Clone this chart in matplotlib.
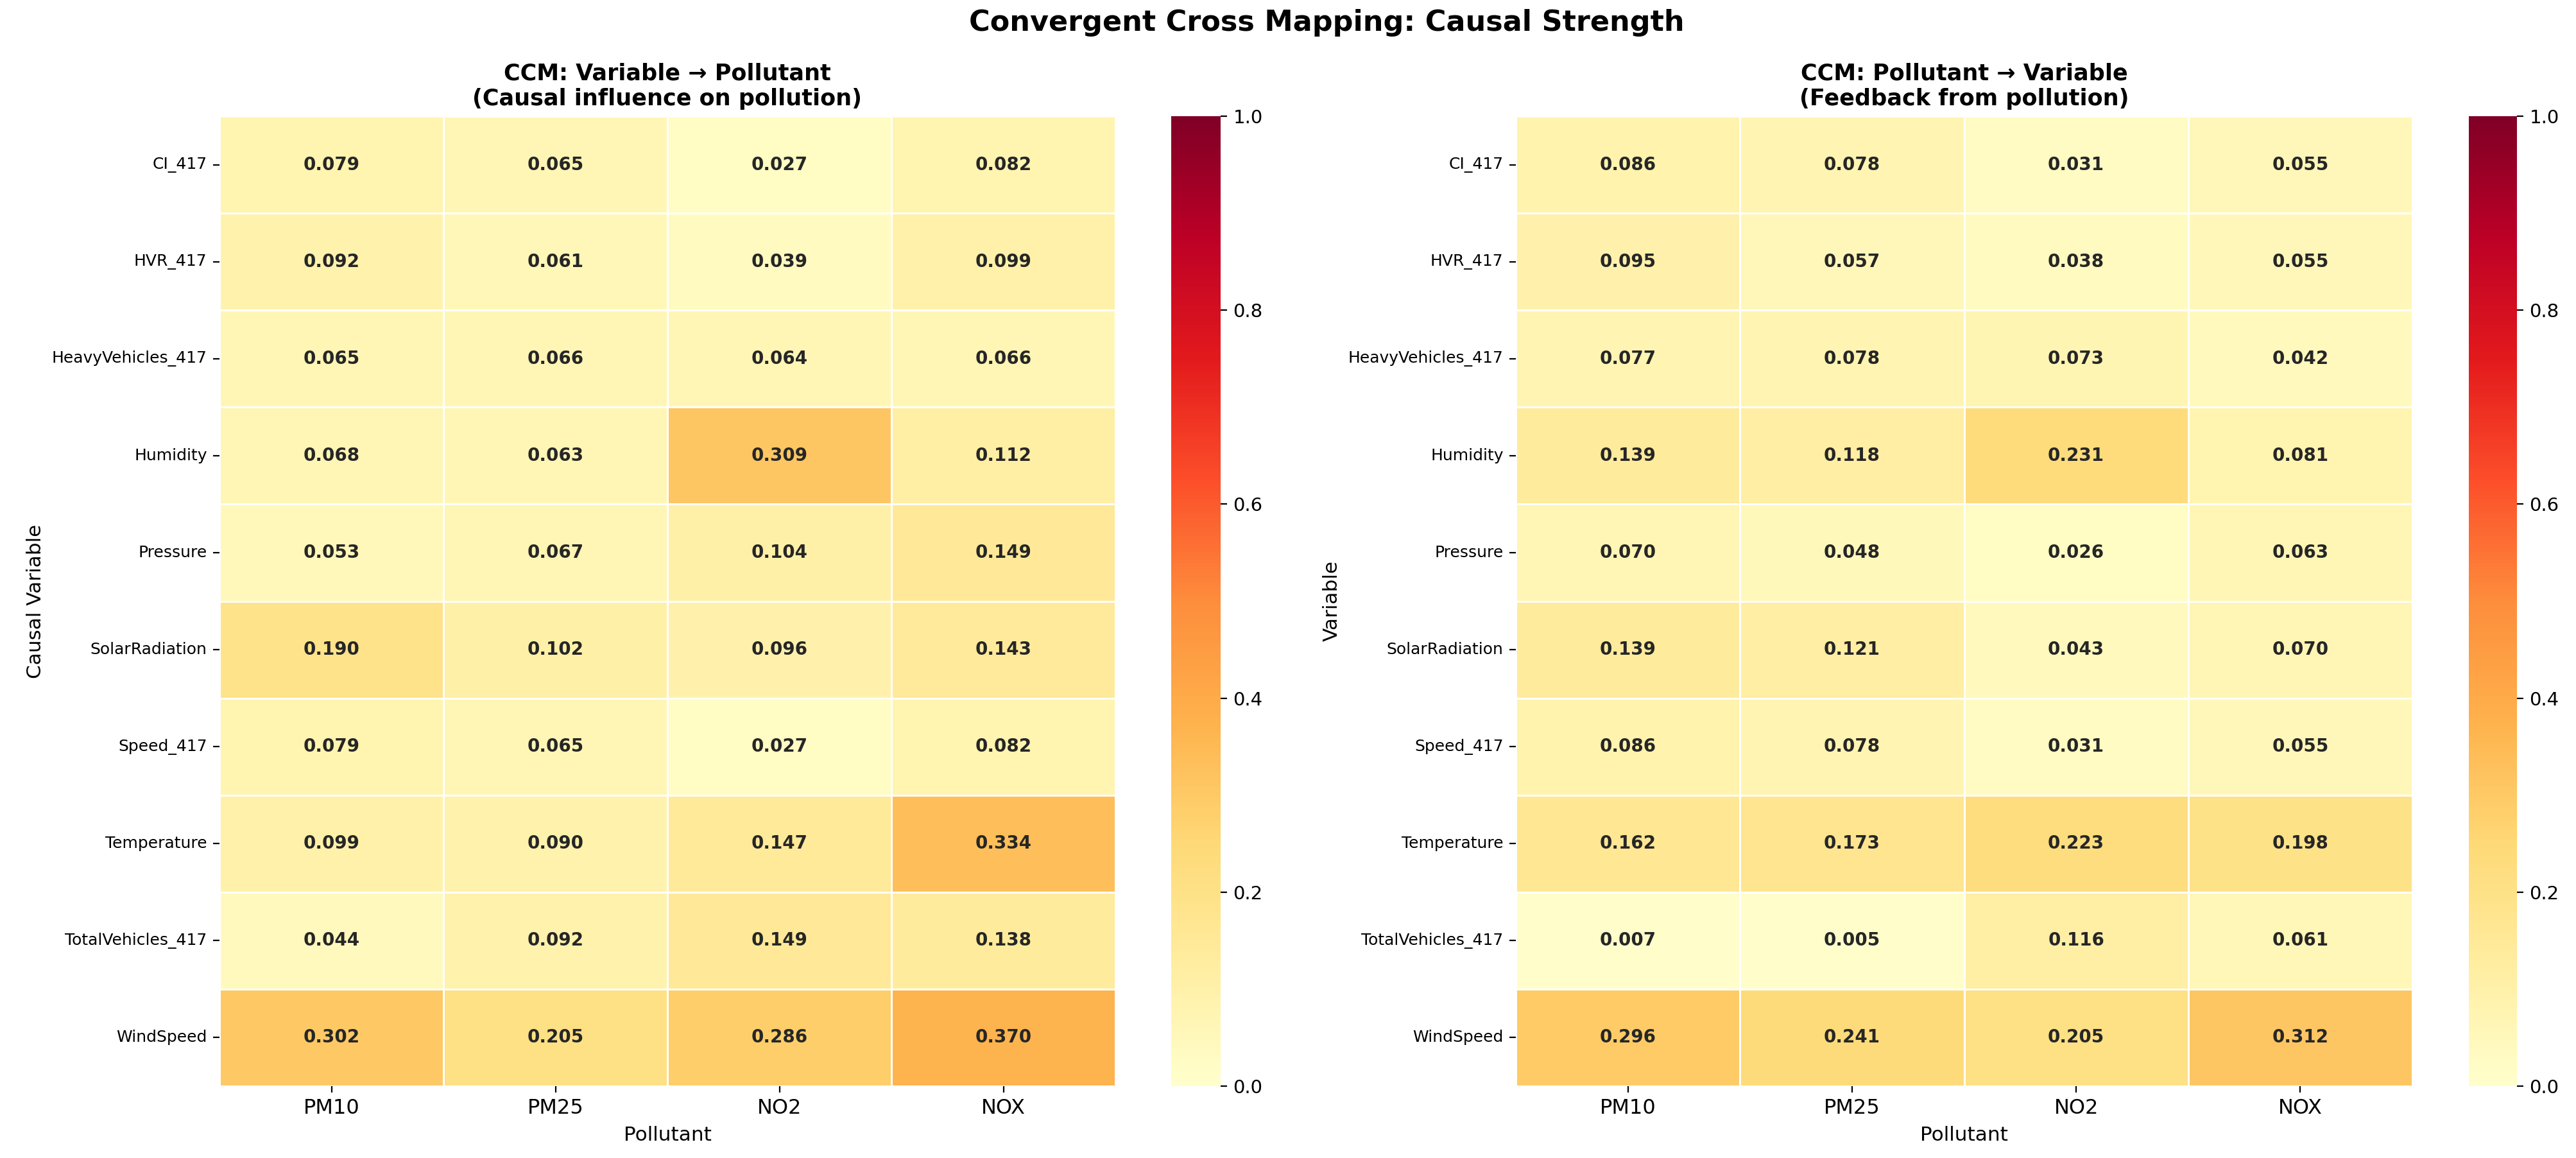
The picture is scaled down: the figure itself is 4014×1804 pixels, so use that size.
import numpy as np
import matplotlib
matplotlib.use("Agg")
import matplotlib.pyplot as plt
import seaborn as sns

variables = ["CI_417", "HVR_417", "HeavyVehicles_417", "Humidity", "Pressure",
             "SolarRadiation", "Speed_417", "Temperature", "TotalVehicles_417", "WindSpeed"]
pollutants = ["PM10", "PM25", "NO2", "NOX"]

var_to_pol = [
    [0.079, 0.065, 0.027, 0.082],
    [0.092, 0.061, 0.039, 0.099],
    [0.065, 0.066, 0.064, 0.066],
    [0.068, 0.063, 0.309, 0.112],
    [0.053, 0.067, 0.104, 0.149],
    [0.190, 0.102, 0.096, 0.143],
    [0.079, 0.065, 0.027, 0.082],
    [0.099, 0.090, 0.147, 0.334],
    [0.044, 0.092, 0.149, 0.138],
    [0.302, 0.205, 0.286, 0.370],
]
pol_to_var = [
    [0.086, 0.078, 0.031, 0.055],
    [0.095, 0.057, 0.038, 0.055],
    [0.077, 0.078, 0.073, 0.042],
    [0.139, 0.118, 0.231, 0.081],
    [0.070, 0.048, 0.026, 0.063],
    [0.139, 0.121, 0.043, 0.070],
    [0.086, 0.078, 0.031, 0.055],
    [0.162, 0.173, 0.223, 0.198],
    [0.007, 0.005, 0.116, 0.061],
    [0.296, 0.241, 0.205, 0.312],
]

W, H = 4014, 1804
fig = plt.figure(figsize=(W / 200, H / 200), dpi=200)

def box(x0, x1, y0, y1):
    return [x0 / W, 1 - y1 / H, (x1 - x0) / W, (y1 - y0) / H]

ax1 = fig.add_axes(box(342, 1738, 181, 1692))
cax1 = fig.add_axes(box(1825, 1902, 181, 1692))
ax2 = fig.add_axes(box(2362, 3759, 181, 1692))
cax2 = fig.add_axes(box(3847, 3922, 181, 1692))

panels = [
    (ax1, cax1, var_to_pol, "CCM: Variable \u2192 Pollutant\n(Causal influence on pollution)", "Causal Variable"),
    (ax2, cax2, pol_to_var, "CCM: Pollutant \u2192 Variable\n(Feedback from pollution)", "Variable"),
]
for ax, cax, data, title, ylab in panels:
    sns.heatmap(np.array(data), ax=ax, cbar_ax=cax, cmap="YlOrRd", vmin=0, vmax=1,
                annot=True, fmt=".3f", annot_kws={"fontsize": 10, "fontweight": "bold"},
                linewidths=1, linecolor="white",
                xticklabels=pollutants, yticklabels=variables)
    ax.set_title(title, fontsize=12.6, fontweight="bold", pad=6)
    ax.set_xlabel("Pollutant", fontsize=11.2)
    ax.set_ylabel(ylab, fontsize=11.2)
    ax.tick_params(axis="x", labelsize=11.5, rotation=0)
    ax.tick_params(axis="y", labelsize=9, rotation=0)
    cax.tick_params(labelsize=10.5)

fig.suptitle("Convergent Cross Mapping: Causal Strength", fontsize=16, fontweight="bold",
             x=0.515, y=0.992)
fig.savefig("out.png", dpi=200)
